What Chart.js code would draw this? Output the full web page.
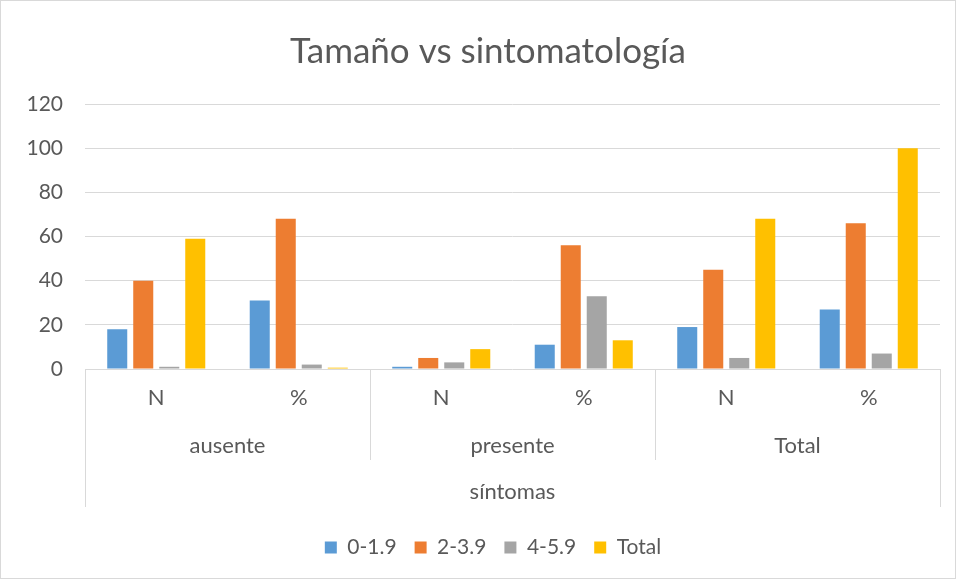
<!DOCTYPE html>
<html>
<head>
<meta charset="utf-8">
<script src="https://cdn.jsdelivr.net/npm/chart.js"></script>
<style>
  html, body { margin: 0; padding: 0; background: #fff; }
  #wrap { position: relative; width: 956px; height: 579px; }
  #frame { position: absolute; left: 0; top: 0; width: 956px; height: 579px;
           box-sizing: border-box; border: 1px solid #d9d9d9; pointer-events: none; }
</style>
</head>
<body>
<div id="wrap">
  <canvas id="c" width="956" height="579"></canvas>
  <div id="frame"></div>
</div>
<script>
// data
const subLabels = ['N', '%', 'N', '%', 'N', '%'];
const groupLabels = ['ausente', 'presente', 'Total'];
const outerLabel = 'síntomas';
const seriesNames = ['0-1.9', '2-3.9', '4-5.9', 'Total'];
const s0to19 = [18, 31, 1, 11, 19, 27];
const s2to39 = [40, 68, 5, 56, 45, 66];
const s4to59 = [1, 2, 3, 33, 5, 7];
const sTotal = [59, 0.6, 9, 13, 68, 100];
const yTicks = [0, 20, 40, 60, 80, 100, 120];

const colors = ['#5B9BD5', '#ED7D31', '#A5A5A5', '#FFC000'];
const txt = '#595959';
const gridCol = '#d9d9d9';
const fontFam = 'Lato, "Open Sans", sans-serif';

// draws the multi-level category labels below the plot
const multiLevel = {
    id: 'multiLevel',
    afterLayout(chart) {
        // Excel centres title and legend a bit right of the canvas centre
        if (chart.legend) chart.legend.left += 46;
        if (chart.titleBlock) chart.titleBlock.left += 36;
    },
    afterDraw(chart) {
        const ctx = chart.ctx;
        const x = chart.scales.x;
        const area = chart.chartArea;
        const half = (x.getPixelForValue(1) - x.getPixelForValue(0)) / 2;
        ctx.save();
        ctx.fillStyle = txt;
        ctx.font = '22px ' + fontFam;
        ctx.textAlign = 'center';
        ctx.textBaseline = 'middle';
        subLabels.forEach((l, i) => ctx.fillText(l, x.getPixelForValue(i), 398));
        groupLabels.forEach((l, g) => {
            const cx = (x.getPixelForValue(g * 2) + x.getPixelForValue(g * 2 + 1)) / 2;
            ctx.fillText(l, cx, 446);
        });
        ctx.fillText(outerLabel, (area.left + area.right) / 2, 492);

        ctx.strokeStyle = gridCol;
        ctx.lineWidth = 1;
        ctx.beginPath();
        for (let g = 1; g < groupLabels.length; g++) {
            const sx = Math.round(x.getPixelForValue(g * 2) - half) + 0.5;
            ctx.moveTo(sx, area.bottom);
            ctx.lineTo(sx, 460);
        }
        [area.left, area.right].forEach(px => {
            const sx = Math.round(px) + 0.5;
            ctx.moveTo(sx, area.bottom);
            ctx.lineTo(sx, 507);
        });
        ctx.stroke();
        ctx.restore();
    }
};

const allSeries = [s0to19, s2to39, s4to59, sTotal];

new Chart(document.getElementById('c'), {
    type: 'bar',
    data: {
        labels: subLabels,
        datasets: seriesNames.map((name, i) => ({
            label: name,
            data: allSeries[i],
            backgroundColor: colors[i],
            borderWidth: 0,
            categoryPercentage: 0.73,
            barPercentage: 0.77
        }))
    },
    options: {
        responsive: false,
        animation: false,
        layout: { padding: { top: 31, bottom: 11, left: 0, right: 16 } },
        scales: {
            x: {
                grid: { display: false },
                border: { display: false },
                ticks: { display: false },
                afterFit: (s) => { s.height = 150; }
            },
            y: {
                min: 0,
                max: 120,
                afterBuildTicks: (s) => { s.ticks = yTicks.map(v => ({ value: v })); },
                grid: { color: gridCol, lineWidth: 1, drawTicks: false },
                border: { display: false },
                ticks: { color: txt, font: { size: 21, family: fontFam }, padding: 22 },
                afterFit: (s) => { s.width = 85; }
            }
        },
        plugins: {
            title: {
                display: true,
                text: 'Tamaño vs sintomatología',
                color: txt,
                font: { size: 35, family: fontFam, weight: 'normal' },
                padding: { top: 0, bottom: 31 }
            },
            legend: {
                position: 'bottom',
                labels: {
                    color: txt,
                    font: { size: 21, family: fontFam },
                    boxWidth: 12,
                    boxHeight: 12,
                    padding: 18
                }
            },
            tooltip: { enabled: false }
        }
    },
    plugins: [multiLevel]
});
</script>
</body>
</html>
